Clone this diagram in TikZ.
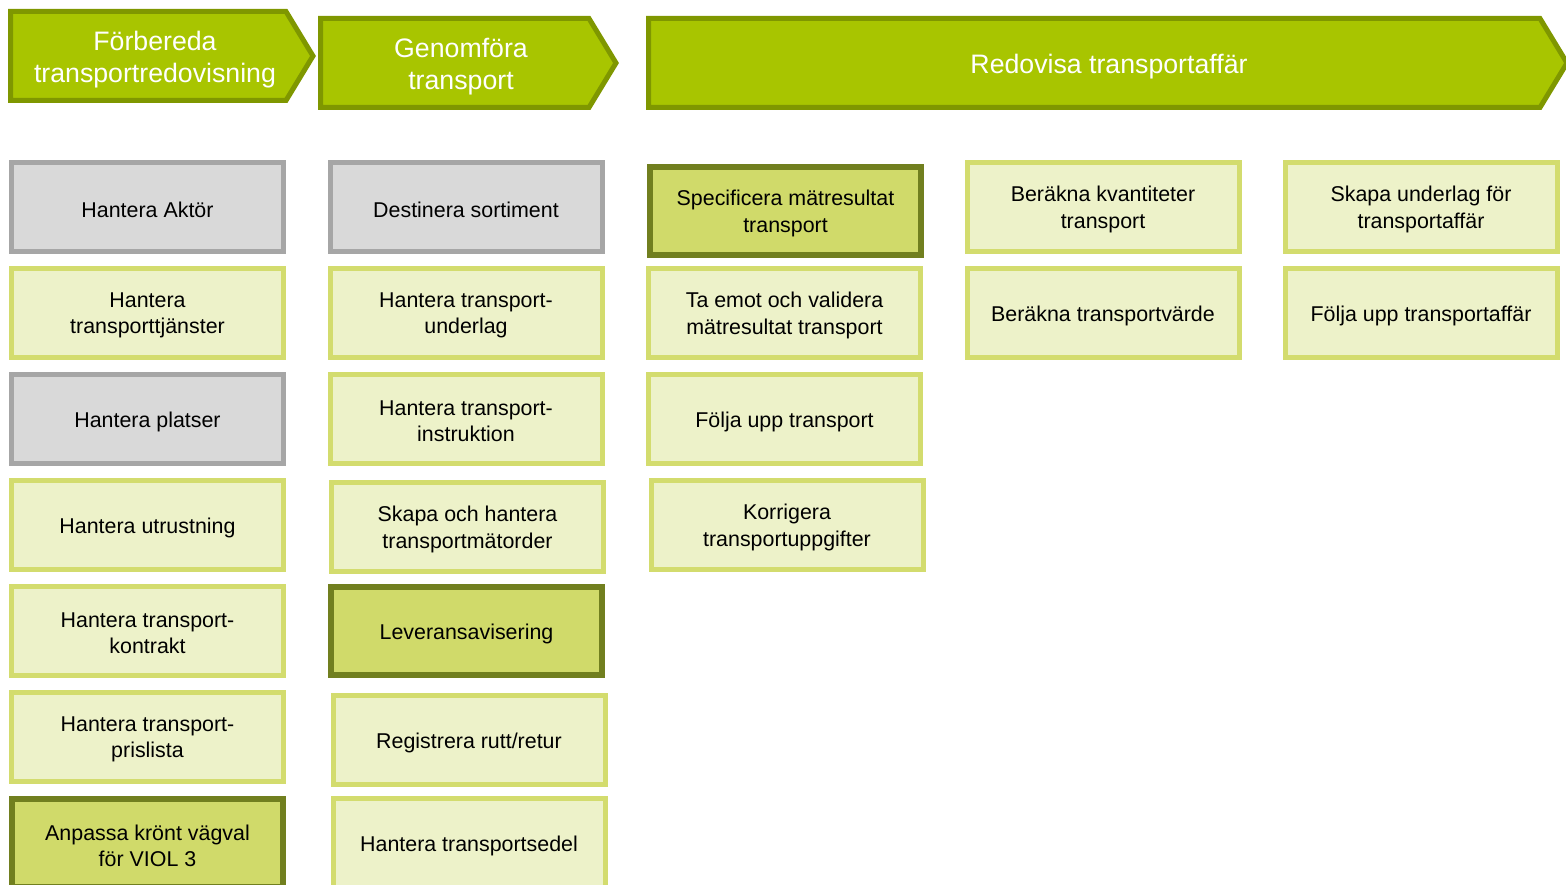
\documentclass[tikz,border=0pt]{standalone}
\usepackage{fontspec}
\setmainfont{Liberation Sans}
\definecolor{hdrfill}{HTML}{A8C500}
\definecolor{hdrline}{HTML}{7F9700}
\definecolor{lightfill}{HTML}{EDF2C9}
\definecolor{lightline}{HTML}{D3DC6E}
\definecolor{grayfill}{HTML}{D9D9D9}
\definecolor{grayline}{HTML}{A6A6A6}
\definecolor{darkfill}{HTML}{D0DA6A}
\definecolor{darkline}{HTML}{717F1F}
\tikzset{
  hdr/.style={draw=hdrline, fill=hdrfill, line width=5pt, line join=miter},
  hdrtext/.style={text=white, font=\fontsize{26.7pt}{32pt}\selectfont, align=center},
  boxtext/.style={text=black, align=center, inner sep=0pt, yshift=-2.5pt,
    font=\fontsize{21.4pt}{26.3pt}\selectfont},
  box/.style={line width=5pt, minimum width=272pt, minimum height=89pt, inner sep=0pt},
  lightbox/.style={box, draw=lightline, fill=lightfill},
  graybox/.style={box, draw=grayline, fill=grayfill},
  darkbox/.style={box, draw=darkline, fill=darkfill, line width=6pt, minimum width=271pt, minimum height=88pt}
}
\newcommand\procbox[4]{\node[#1, label={[boxtext]center:{#4}}] (#2) at (#3) {};}
\begin{document}
\begin{tikzpicture}[x=1pt,y=-1pt]
\useasboundingbox (0,0) rectangle (1566,885);
\clip (0,0) rectangle (1566,885);
% headers
\draw[hdr] (10.5,11.5) -- (286,11.5) -- (313,56) -- (286,100.5) -- (10.5,100.5) -- cycle;
\node[hdrtext] (h1) at (155,59.5) {Förbereda\\transportredovisning};
\draw[hdr] (320.5,18.5) -- (589,18.5) -- (616,63) -- (589,107.5) -- (320.5,107.5) -- cycle;
\node[hdrtext] (h2) at (461,66.5) {Genomföra\\transport};
\draw[hdr] (648.5,18.5) -- (1540,18.5) -- (1567,63) -- (1540,107.5) -- (648.5,107.5) -- cycle;
\node[hdrtext] (h3) at (1109,66.5) {Redovisa transportaffär};
% column 1
\procbox{graybox}{a1}{147.5,207}{Hantera Aktör}
\procbox{lightbox}{a2}{147.5,313}{Hantera\\transporttjänster}
\procbox{graybox}{a3}{147.5,419}{Hantera platser}
\procbox{lightbox}{a4}{147.5,525}{Hantera utrustning}
\procbox{lightbox}{a5}{147.5,631}{Hantera transport-\\kontrakt}
\procbox{lightbox}{a6}{147.5,737}{Hantera transport-\\prislista}
\procbox{darkbox}{a7}{147.5,843}{Anpassa krönt vägval\\för VIOL 3}
% column 2
\procbox{graybox}{b1}{466,207}{Destinera sortiment}
\procbox{lightbox}{b2}{466,313}{Hantera transport-\\underlag}
\procbox{lightbox}{b3}{466,419}{Hantera transport-\\instruktion}
\procbox{lightbox}{b4}{467.5,527}{Skapa och hantera\\transportmätorder}
\procbox{darkbox}{b5}{466.5,631}{Leveransavisering}
\procbox{lightbox}{b6}{469,740}{Registrera rutt/retur}
\procbox{lightbox}{b7}{469,843}{Hantera transportsedel}
% column 3
\procbox{darkbox}{c1}{785.5,211}{Specificera mätresultat\\transport}
\procbox{lightbox}{c2}{784.5,313}{Ta emot och validera\\mätresultat transport}
\procbox{lightbox}{c3}{784.5,419}{Följa upp transport}
\procbox{lightbox}{c4}{787,525}{Korrigera\\transportuppgifter}
% column 4
\procbox{lightbox}{d1}{1103,207}{Beräkna kvantiteter\\transport}
\procbox{lightbox}{d2}{1103,313}{Beräkna transportvärde}
% column 5
\procbox{lightbox}{e1}{1421,207}{Skapa underlag för\\transportaffär}
\procbox{lightbox}{e2}{1421,313}{Följa upp transportaffär}
\end{tikzpicture}
\end{document}
